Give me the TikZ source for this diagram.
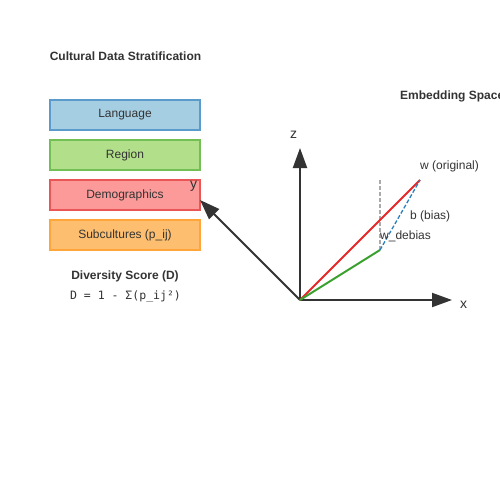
\documentclass[tikz,border=0pt]{standalone}
\usepackage{fontspec}
\setmainfont{Liberation Sans}
\setmonofont{DejaVu Sans Mono}
\usetikzlibrary{arrows.meta}
\definecolor{ink}{HTML}{333333}
\definecolor{langF}{HTML}{A6CEE3}\definecolor{langD}{HTML}{5A9BCB}
\definecolor{regF}{HTML}{B2DF8A}\definecolor{regD}{HTML}{72C055}
\definecolor{demF}{HTML}{FB9A99}\definecolor{demD}{HTML}{EA5555}
\definecolor{subF}{HTML}{FDBF6F}\definecolor{subD}{HTML}{FFA53A}
\definecolor{grayd}{HTML}{AAAAAA}
\definecolor{redw}{HTML}{E62828}
\definecolor{greenw}{HTML}{3AA02E}
\definecolor{blueb}{HTML}{2A7FBF}
\tikzset{
  layer/.style={draw, line width=1.5pt, minimum width=150pt, minimum height=30pt, inner sep=0pt, font=\fontsize{12}{14}\selectfont, text=ink},
  axis/.style={draw=ink, line width=2pt, -{Triangle[length=20pt,width=14pt]}},
  ttl/.style={font=\bfseries\fontsize{12}{14}\selectfont, text=ink},
  lbl/.style={font=\fontsize{12}{14}\selectfont, text=ink},
  axlbl/.style={font=\fontsize{14}{16}\selectfont, text=ink},
}
\begin{document}
\begin{tikzpicture}[x=1pt,y=-1pt]
\useasboundingbox (0,0) rectangle (500,500);
\node[ttl] (title) at (125.5,56) {Cultural Data Stratification};
\node[ttl, anchor=west, inner sep=0pt] (etitle) at (400,96) {Embedding Space};
\node[layer, fill=langF, draw=langD] (lang) at (125,115) {Language};
\node[layer, fill=regF, draw=regD] (region) at (125,155) {Region};
\node[layer, fill=demF, draw=demD] (demo) at (125,195) {Demographics};
\node[layer, fill=subF, draw=subD] (sub) at (125,235) {Subcultures (p\_ij)};
\node[ttl] (ds) at (125,276) {Diversity Score (D)};
\node[font=\ttfamily\fontsize{11.5}{13}\selectfont, text=ink] (formula) at (125.5,296) {D = 1 - Σ(p\_ij²)};
\coordinate (O) at (300,300);
\coordinate (X) at (452,300);
\coordinate (Y) at (200,200);
\coordinate (Z) at (300,148);
\coordinate (W) at (420,180);
\coordinate (WD) at (380,250);
\coordinate (P) at (380,180);
\draw[axis] (O) -- (X);
\draw[axis] (O) -- (Y);
\draw[axis] (O) -- (Z);
\node[axlbl] (xl) at (463.5,305) {x};
\node[axlbl] (yl) at (193.5,186) {y};
\node[axlbl] (zl) at (293.5,135) {z};
\draw[draw=grayd, line width=1.3pt, dash pattern=on 4pt off 2pt] (P) -- (WD);
\draw[draw=redw, line width=2pt] (O) -- (W);
\draw[draw=greenw, line width=2pt] (O) -- (WD);
\draw[draw=blueb, line width=1.3pt, dash pattern=on 4pt off 2pt] (WD) -- (W);
\node[lbl, anchor=west, inner sep=0pt] (wl) at (420,166) {w (original)};
\node[lbl, anchor=west, inner sep=0pt] (bl) at (410,216) {b (bias)};
\node[lbl, anchor=west, inner sep=0pt] (wdl) at (380,236) {w\_debias};
\end{tikzpicture}
\end{document}
